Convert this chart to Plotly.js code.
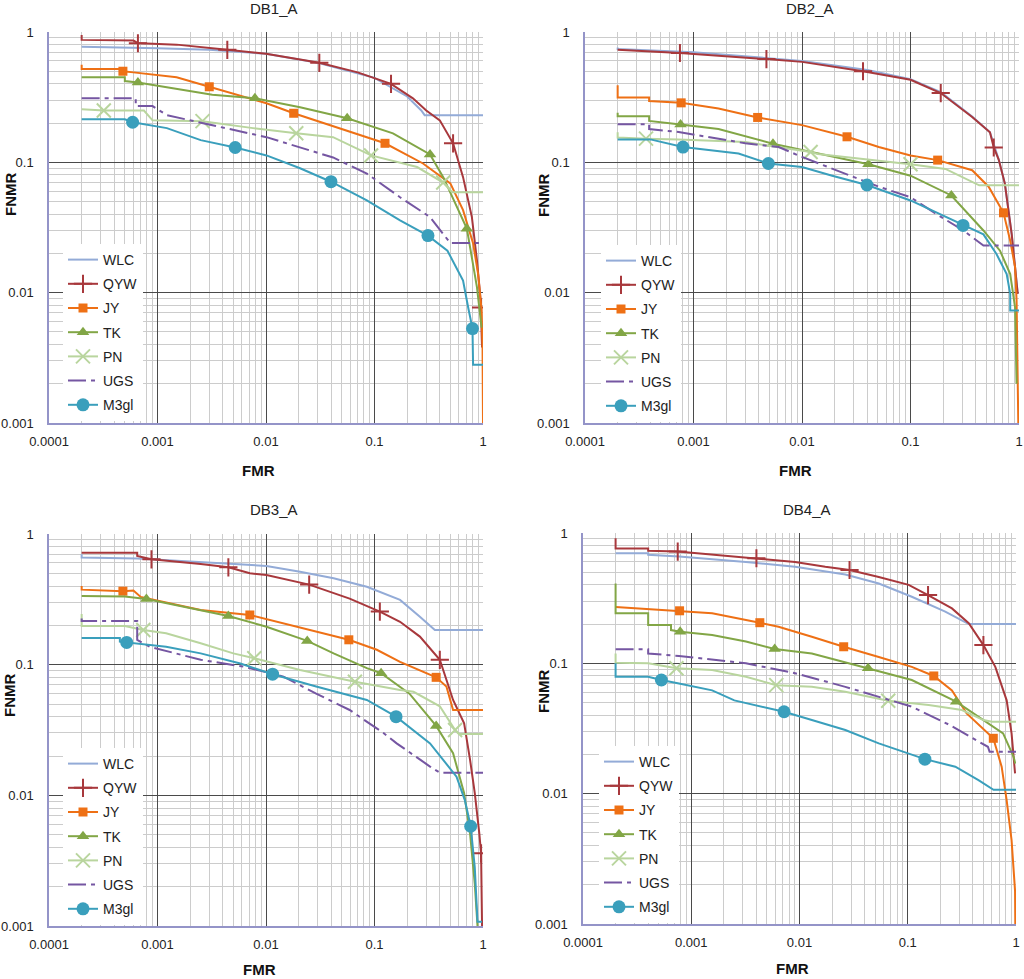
<!DOCTYPE html>
<html>
<head>
<meta charset="utf-8">
<script src="https://cdn.plot.ly/plotly-3.0.1.min.js"></script>
<style>
  html, body { margin: 0; padding: 0; background: #fff; }
  #chart { width: 1024px; height: 979px; }
</style>
</head>
<body>
<div id="chart"></div>
<script>
// [FMR, FNMR] pairs; *_M are the marker positions.
const DB1_WLC = [[0.0002,0.77],[0.0006,0.76],[0.001,0.75],[0.003,0.73],[0.01,0.68],[0.03,0.58],[0.1,0.445],[0.2,0.32],[0.27,0.25],[0.29,0.23],[1,0.23]];
const DB1_QYW = [[0.0002,0.95],[0.0002,0.87],[0.0006,0.86],[0.0007,0.82],[0.0015,0.80],[0.01,0.68],[0.07,0.49],[0.226,0.31],[0.30,0.25],[0.40,0.21],[0.655,0.077],[0.79,0.038],[0.88,0.0176],[0.94,0.0098],[0.97,0.005],[0.98,0.0038]];
const DB1_QYW_M = [[0.00066,0.82],[0.0044,0.73],[0.031,0.58],[0.142,0.40],[0.53,0.14],[0.96,0.0077]];
const DB1_JY = [[0.0002,0.56],[0.0002,0.52],[0.00045,0.52],[0.0006,0.49],[0.0015,0.45],[0.0067,0.316],[0.0101,0.284],[0.0415,0.19],[0.28,0.098],[0.50,0.069],[0.655,0.043],[0.81,0.024],[0.90,0.014],[0.97,0.0074],[0.99,0.004],[1.0,0.001]];
const DB1_JY_M = [[0.00048,0.50],[0.003,0.38],[0.018,0.238],[0.125,0.14]];
const DB1_TK = [[0.0002,0.45],[0.0005,0.45],[0.0005,0.42],[0.0032,0.33],[0.0206,0.265],[0.148,0.167],[0.43,0.077],[0.88,0.011],[0.97,0.0054]];
const DB1_TK_M = [[0.00066,0.41],[0.0079,0.31],[0.056,0.218],[0.325,0.115],[0.71,0.031]];
const DB1_PN = [[0.0002,0.256],[0.00075,0.25],[0.0009,0.21],[0.0076,0.183],[0.0415,0.156],[0.247,0.092],[0.52,0.059],[1,0.059]];
const DB1_PN_M = [[0.00032,0.25],[0.0026,0.207],[0.019,0.167],[0.093,0.113],[0.43,0.070]];
const DB1_UGS = [[0.0002,0.31],[0.00063,0.31],[0.00063,0.27],[0.0009,0.27],[0.00122,0.23],[0.005,0.176],[0.0101,0.156],[0.0415,0.109],[0.085,0.082],[0.172,0.054],[0.325,0.038],[0.50,0.024],[1,0.024]];
const DB1_M3GL = [[0.0002,0.214],[0.0005,0.214],[0.00122,0.183],[0.0025,0.148],[0.0101,0.113],[0.0206,0.09],[0.085,0.051],[0.172,0.0358],[0.47,0.021],[0.655,0.0124],[0.73,0.0077],[0.81,0.0028],[1,0.0028]];
const DB1_M3GL_M = [[0.00059,0.203],[0.0052,0.13],[0.0397,0.071],[0.311,0.0274],[0.80,0.0053]];

const DB2_WLC = [[0.0002,0.76],[0.0002,0.74],[0.001,0.70],[0.005,0.63],[0.01,0.60],[0.04,0.51],[0.1,0.435],[0.19,0.345],[0.37,0.225],[0.54,0.17],[0.65,0.105],[0.74,0.069],[0.857,0.028],[0.92,0.0157],[0.973,0.0098]];
const DB2_QYW = [[0.0002,0.73],[0.01,0.59],[0.1,0.43],[0.37,0.223],[0.54,0.17],[0.65,0.105],[0.74,0.069],[0.857,0.028],[0.92,0.0157],[0.973,0.0098]];
const DB2_QYW_M = [[0.00075,0.69],[0.0047,0.62],[0.0365,0.50],[0.19,0.34],[0.585,0.13]];
const DB2_JY = [[0.0002,0.39],[0.0002,0.315],[0.00039,0.315],[0.00039,0.295],[0.0017,0.259],[0.01,0.193],[0.051,0.131],[0.1,0.113],[0.37,0.087],[0.525,0.065],[0.83,0.025],[0.92,0.0157],[0.95,0.0087],[0.985,0.001]];
const DB2_JY_M = [[0.00077,0.286],[0.0039,0.221],[0.026,0.157],[0.178,0.104],[0.72,0.041]];
const DB2_TK = [[0.0002,0.24],[0.0002,0.226],[0.00039,0.226],[0.00039,0.208],[0.0017,0.18],[0.01,0.124],[0.1,0.079],[0.47,0.030],[0.668,0.021],[0.83,0.0139],[0.92,0.0077],[0.95,0.002]];
const DB2_TK_M = [[0.00076,0.195],[0.0054,0.139],[0.041,0.0966],[0.238,0.0557]];
const DB2_PN = [[0.0002,0.17],[0.0002,0.155],[0.00073,0.15],[0.003,0.143],[0.0075,0.127],[0.014,0.116],[0.025,0.11],[0.051,0.104],[0.21,0.089],[0.43,0.0666],[1,0.0666]];
const DB2_PN_M = [[0.000365,0.152],[0.012,0.12],[0.1,0.0966]];
const DB2_UGS = [[0.0002,0.196],[0.00039,0.196],[0.00039,0.18],[0.00073,0.171],[0.003,0.14],[0.0061,0.131],[0.01,0.11],[0.025,0.082],[0.051,0.065],[0.1,0.054],[0.174,0.040],[0.307,0.030],[0.47,0.023],[1,0.023]];
const DB2_M3GL = [[0.0002,0.15],[0.0004,0.15],[0.0026,0.117],[0.01,0.092],[0.019,0.079],[0.1,0.051],[0.47,0.028],[0.62,0.0198],[0.77,0.0139],[0.83,0.0098],[0.83,0.0073],[1,0.0073]];
const DB2_M3GL_M = [[0.0008,0.131],[0.0049,0.098],[0.0397,0.067],[0.305,0.0328]];

const DB3_WLC = [[0.0002,0.70],[0.0002,0.66],[0.00065,0.65],[0.0012,0.63],[0.0101,0.57],[0.0206,0.515],[0.042,0.458],[0.085,0.395],[0.172,0.313],[0.262,0.233],[0.36,0.184],[1,0.184]];
const DB3_QYW = [[0.0002,0.72],[0.00065,0.72],[0.00065,0.68],[0.0025,0.59],[0.0071,0.50],[0.0101,0.485],[0.059,0.32],[0.172,0.213],[0.262,0.164],[0.53,0.0537],[0.67,0.0356],[0.76,0.0187],[0.84,0.0104],[0.925,0.0051],[0.98,0.001]];
const DB3_QYW_M = [[0.00088,0.64],[0.0045,0.556],[0.025,0.41],[0.112,0.255],[0.40,0.109],[0.96,0.0036]];
const DB3_JY = [[0.0002,0.40],[0.0002,0.375],[0.0006,0.37],[0.0007,0.33],[0.0025,0.262],[0.0145,0.207],[0.029,0.179],[0.105,0.13],[0.172,0.105],[0.46,0.068],[0.53,0.045],[1,0.045]];
const DB3_JY_M = [[0.00048,0.365],[0.0071,0.24],[0.058,0.155],[0.37,0.08]];
const DB3_TK = [[0.0002,0.335],[0.0005,0.333],[0.0025,0.262],[0.0101,0.195],[0.042,0.122],[0.085,0.094],[0.21,0.060],[0.53,0.021],[0.67,0.0104],[0.76,0.0051],[0.84,0.0021],[0.89,0.001]];
const DB3_TK_M = [[0.00079,0.318],[0.0045,0.236],[0.024,0.152],[0.115,0.086],[0.37,0.034]];
const DB3_PN = [[0.0002,0.244],[0.0002,0.198],[0.0005,0.198],[0.0012,0.174],[0.0025,0.146],[0.005,0.122],[0.0206,0.091],[0.172,0.064],[0.229,0.062],[0.40,0.048],[0.6,0.0295],[1,0.0295]];
const DB3_PN_M = [[0.00074,0.184],[0.0078,0.112],[0.066,0.074],[0.553,0.0316]];
const DB3_UGS = [[0.0002,0.226],[0.0002,0.216],[0.00065,0.216],[0.00065,0.155],[0.00085,0.137],[0.0025,0.109],[0.0062,0.0966],[0.0145,0.081],[0.029,0.060],[0.059,0.045],[0.121,0.030],[0.16,0.025],[0.325,0.0166],[0.40,0.0149],[1,0.0149]];
const DB3_M3GL = [[0.0002,0.16],[0.00045,0.16],[0.00045,0.15],[0.0012,0.137],[0.0025,0.122],[0.0058,0.102],[0.029,0.068],[0.085,0.0537],[0.325,0.025],[0.57,0.0139],[0.68,0.0092],[0.84,0.0028],[0.87,0.0016],[0.89,0.00108],[0.98,0.00108]];
const DB3_M3GL_M = [[0.00052,0.148],[0.0115,0.0845],[0.158,0.040],[0.77,0.0058]];

const DB4_WLC = [[0.0002,0.70],[0.0004,0.70],[0.0004,0.68],[0.00077,0.66],[0.0032,0.60],[0.0091,0.55],[0.0265,0.48],[0.054,0.41],[0.109,0.324],[0.222,0.249],[0.366,0.20],[1,0.20]];
const DB4_QYW = [[0.0002,0.91],[0.0002,0.76],[0.0004,0.76],[0.0004,0.73],[0.00156,0.68],[0.0091,0.60],[0.0173,0.55],[0.054,0.46],[0.102,0.40],[0.256,0.264],[0.366,0.203],[0.644,0.094],[0.82,0.052],[0.91,0.029],[0.98,0.0143]];
const DB4_QYW_M = [[0.00075,0.72],[0.004,0.64],[0.029,0.52],[0.154,0.334],[0.50,0.138]];
const DB4_JY = [[0.0002,0.27],[0.00156,0.242],[0.0064,0.191],[0.013,0.16],[0.054,0.112],[0.109,0.094],[0.256,0.062],[0.35,0.0413],[0.737,0.0161],[0.82,0.0089],[0.91,0.0044],[0.98,0.0018],[0.985,0.001]];
const DB4_JY_M = [[0.00078,0.253],[0.0043,0.205],[0.0256,0.134],[0.174,0.080],[0.617,0.0266]];
const DB4_TK = [[0.0002,0.41],[0.0002,0.242],[0.0004,0.242],[0.0004,0.197],[0.00065,0.197],[0.00065,0.18],[0.00156,0.165],[0.0032,0.147],[0.013,0.119],[0.109,0.0745],[0.50,0.0367],[0.76,0.029],[0.95,0.0192],[0.985,0.017]];
const DB4_TK_M = [[0.00079,0.175],[0.0059,0.129],[0.043,0.0916],[0.28,0.0508]];
const DB4_PN = [[0.0002,0.119],[0.0002,0.101],[0.0004,0.1],[0.00156,0.089],[0.0032,0.079],[0.013,0.066],[0.0265,0.0605],[0.156,0.0479],[0.317,0.0438],[0.50,0.0367],[0.6,0.0356],[1,0.0356]];
const DB4_PN_M = [[0.00073,0.0916],[0.0061,0.068],[0.066,0.0516]];
const DB4_UGS = [[0.0002,0.128],[0.0004,0.128],[0.0004,0.119],[0.00077,0.114],[0.0032,0.1],[0.0091,0.084],[0.0265,0.066],[0.054,0.0554],[0.109,0.0465],[0.245,0.0336],[0.43,0.0258],[0.55,0.0229],[0.57,0.021],[1,0.021]];
const DB4_M3GL = [[0.0002,0.1],[0.0002,0.079],[0.0004,0.079],[0.00077,0.070],[0.00156,0.062],[0.0025,0.052],[0.0045,0.0465],[0.013,0.0367],[0.0265,0.0308],[0.054,0.0243],[0.275,0.0161],[0.45,0.0127],[0.62,0.0107],[1,0.0107]];
const DB4_M3GL_M = [[0.00053,0.0745],[0.0072,0.0425],[0.144,0.0184]];

const X_TICKS = [0.0001, 0.001, 0.01, 0.1, 1];
const X_TICK_TEXT = ['0.0001', '0.001', '0.01', '0.1', '1'];
const Y_TICKS = [0.001, 0.01, 0.1, 1];
const Y_TICK_TEXT = ['0.001', '0.01', '0.1', '1'];
const SERIES_NAMES = ['WLC', 'QYW', 'JY', 'TK', 'PN', 'UGS', 'M3gl'];

const PANELS = [
    { title: 'DB1_A', curves: [DB1_WLC, DB1_QYW, DB1_JY, DB1_TK, DB1_PN, DB1_UGS, DB1_M3GL],
      marks: [null, DB1_QYW_M, DB1_JY_M, DB1_TK_M, DB1_PN_M, null, DB1_M3GL_M] },
    { title: 'DB2_A', curves: [DB2_WLC, DB2_QYW, DB2_JY, DB2_TK, DB2_PN, DB2_UGS, DB2_M3GL],
      marks: [null, DB2_QYW_M, DB2_JY_M, DB2_TK_M, DB2_PN_M, null, DB2_M3GL_M] },
    { title: 'DB3_A', curves: [DB3_WLC, DB3_QYW, DB3_JY, DB3_TK, DB3_PN, DB3_UGS, DB3_M3GL],
      marks: [null, DB3_QYW_M, DB3_JY_M, DB3_TK_M, DB3_PN_M, null, DB3_M3GL_M] },
    { title: 'DB4_A', curves: [DB4_WLC, DB4_QYW, DB4_JY, DB4_TK, DB4_PN, DB4_UGS, DB4_M3GL],
      marks: [null, DB4_QYW_M, DB4_JY_M, DB4_TK_M, DB4_PN_M, null, DB4_M3GL_M] },
];

const STYLES = {
    WLC:  { color: '#93ABD7' },
    QYW:  { color: '#A8383C', symbol: 'cross-thin-open', size: 13, open: true },
    JY:   { color: '#EE7015', symbol: 'square', size: 9 },
    TK:   { color: '#82A646', symbol: 'triangle-up', size: 11 },
    PN:   { color: '#B9D59E', symbol: 'x-thin-open', size: 14, open: true },
    UGS:  { color: '#7556A2', dash: '18px,5px,4px,5px' },
    M3gl: { color: '#3A9FBC', symbol: 'circle', size: 13 },
};

// page geometry in pixels (W x H), converted to paper fractions
const W = 1024, H = 979;
const px = (v) => v / W;
const py = (v) => 1 - v / H;
const GEOM = [
    { x: [49, 483], y: [32, 423], title: [274, 9], yt: [10, 195], xt: [258, 470], leg: [63, 244] },
    { x: [585, 1019], y: [32, 423], title: [810, 9], yt: [544, 196], xt: [795, 470], leg: [601, 245] },
    { x: [49, 483], y: [534, 926], title: [274, 509], yt: [9, 696], xt: [259, 969], leg: [63, 748] },
    { x: [583, 1016], y: [533, 924], title: [807, 509], yt: [543, 692], xt: [792, 968], leg: [599, 746] },
];

const FONT = 'Liberation Sans, Arial, sans-serif';

function mergeCurve(curve, marks) {
    const pts = curve.map(([x, y]) => ({ x, y }))
        .concat((marks || []).map(([x, y]) => ({ x, y })));
    pts.sort((a, b) => a.x - b.x || b.y - a.y);
    return pts;
}

function markerStyle(st) {
    return {
        symbol: st.symbol, size: st.size, color: st.color,
        line: { color: st.color, width: st.open ? 2 : 0 },
    };
}

const data = [];
const layout = {
    width: W, height: H,
    margin: { l: 0, r: 0, t: 0, b: 0 },
    paper_bgcolor: '#ffffff',
    plot_bgcolor: '#ffffff',
    font: { family: FONT, size: 13, color: '#222' },
    showlegend: true,
    annotations: [],
};

PANELS.forEach((panel, i) => {
    const n = i === 0 ? '' : String(i + 1);
    const xa = 'x' + n, ya = 'y' + n, legendId = 'legend' + n;
    const g = GEOM[i];

    SERIES_NAMES.forEach((name, s) => {
        const st = STYLES[name];
        const pts = mergeCurve(panel.curves[s], panel.marks[s]);
        const line = { color: st.color, width: 2, dash: st.dash || 'solid' };
        data.push({
            x: pts.map((p) => p.x), y: pts.map((p) => p.y),
            type: 'scatter', mode: 'lines', xaxis: xa, yaxis: ya,
            line, showlegend: false, name,
            hovertemplate: `${name}<br>FMR %{x}<br>FNMR %{y}<extra></extra>`,
        });
        if (panel.marks[s]) {
            data.push({
                x: panel.marks[s].map((p) => p[0]), y: panel.marks[s].map((p) => p[1]),
                type: 'scatter', mode: 'markers', xaxis: xa, yaxis: ya,
                marker: markerStyle(st), showlegend: false, name, hoverinfo: 'skip',
            });
        }
        // legend entry only
        const entry = {
            x: [null], y: [null], type: 'scatter',
            mode: st.symbol ? 'lines+markers' : 'lines',
            xaxis: xa, yaxis: ya, name, line,
            legend: legendId, legendgroup: name + i, hoverinfo: 'skip',
        };
        if (st.symbol) entry.marker = markerStyle(st);
        data.push(entry);
    });

    layout['xaxis' + n] = {
        type: 'log', range: [-4, 0], anchor: ya,
        domain: [px(g.x[0]), px(g.x[1])],
        tickmode: 'array', tickvals: X_TICKS, ticktext: X_TICK_TEXT,
        ticks: 'outside', ticklen: 6, tickcolor: 'rgba(0,0,0,0)',
        tickfont: { size: 13, color: '#222' },
        showgrid: true, gridcolor: '#4a4a4a', gridwidth: 1,
        minor: { dtick: 'D1', showgrid: true, gridcolor: '#cccccc', gridwidth: 1 },
        showline: true, linecolor: '#9494C8', linewidth: 1.5,
        zeroline: false, fixedrange: true,
    };
    layout['yaxis' + n] = {
        type: 'log', range: [-3, 0], anchor: xa,
        domain: [py(g.y[1]), py(g.y[0])],
        tickmode: 'array', tickvals: Y_TICKS, ticktext: Y_TICK_TEXT,
        ticks: 'outside', ticklen: 11, tickcolor: 'rgba(0,0,0,0)',
        tickfont: { size: 13, color: '#222' },
        showgrid: true, gridcolor: '#4a4a4a', gridwidth: 1,
        minor: { dtick: 'D1', showgrid: true, gridcolor: '#cccccc', gridwidth: 1 },
        showline: true, linecolor: '#9494C8', linewidth: 1.5,
        zeroline: false, fixedrange: true,
    };
    layout[legendId] = {
        x: px(g.leg[0]), y: py(g.leg[1]), xanchor: 'left', yanchor: 'top',
        xref: 'paper', yref: 'paper',
        bgcolor: '#ffffff', borderwidth: 0,
        font: { family: FONT, size: 14, color: '#222' },
        tracegroupgap: 3, itemwidth: 30,
    };

    layout.annotations.push(
        { text: panel.title, xref: 'paper', yref: 'paper', x: px(g.title[0]), y: py(g.title[1]),
          xanchor: 'center', yanchor: 'middle', showarrow: false,
          font: { family: FONT, size: 15, color: '#222' } },
        { text: '<b>FNMR</b>', xref: 'paper', yref: 'paper', x: px(g.yt[0]), y: py(g.yt[1]),
          xanchor: 'center', yanchor: 'middle', textangle: -90, showarrow: false,
          font: { family: FONT, size: 15, color: '#111' } },
        { text: '<b>FMR</b>', xref: 'paper', yref: 'paper', x: px(g.xt[0]), y: py(g.xt[1]),
          xanchor: 'center', yanchor: 'middle', showarrow: false,
          font: { family: FONT, size: 15, color: '#111' } },
    );
});

Plotly.newPlot('chart', data, layout, { displayModeBar: false, responsive: false });
</script>
</body>
</html>
